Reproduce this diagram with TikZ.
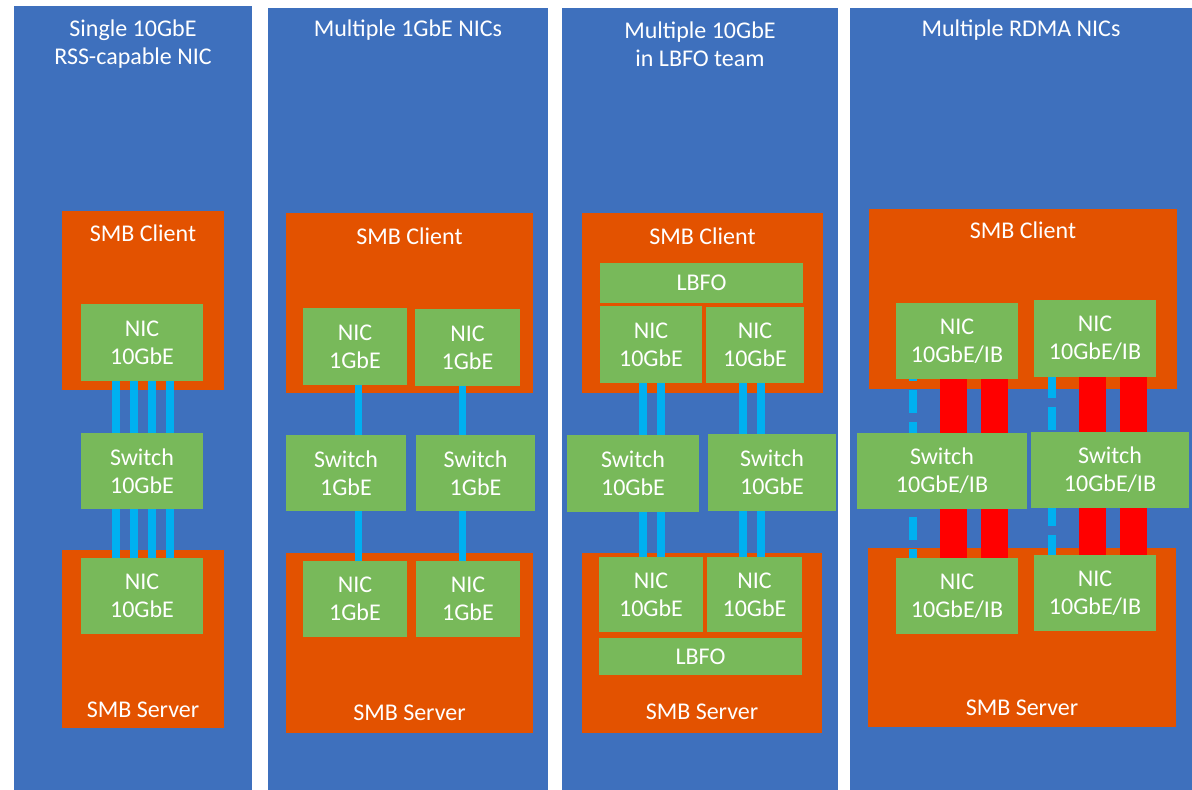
\documentclass[tikz,border=0pt]{standalone}
\usepackage{fontspec}
\setmainfont{Carlito}
\definecolor{pblue}{HTML}{3E70BD}
\definecolor{porange}{HTML}{E35200}
\definecolor{pgreen}{HTML}{78B95A}
\definecolor{pcyan}{HTML}{00B0F0}
\definecolor{pred}{HTML}{FF0000}
\pgfdeclarelayer{bg}
\pgfdeclarelayer{links}
\pgfsetlayers{bg,links,main}
\tikzset{
  panel/.style={fill=pblue, draw=none, inner sep=0pt, outer sep=0pt},
  host/.style={fill=porange, draw=none, inner sep=0pt, outer sep=0pt},
  dev/.style={fill=pgreen, draw=none, text=white, font=\fontsize{24}{28}\selectfont, align=center, inner sep=0pt, outer sep=0pt},
  lbl/.style={text=white, font=\fontsize{24}{28}\selectfont, anchor=base, inner sep=0pt},
  ttl/.style={text=white, font=\fontsize{24}{28}\selectfont, align=center, inner sep=0pt},
  eth/.style={draw=pcyan, line width=8pt},
  eth1/.style={draw=pcyan, line width=7pt},
  rdma/.style={draw=pred, line width=27pt},
}
\begin{document}
\begin{tikzpicture}[x=1pt,y=-1pt]
\useasboundingbox (0,0) rectangle (1192,790);
\begin{pgfonlayer}{bg}
\fill[white] (0,0) rectangle (1192,790);
\node[panel, minimum width=238, minimum height=784] (p1) at (133,398) {};
\node[panel, minimum width=280, minimum height=782] (p2) at (408,399) {};
\node[panel, minimum width=276, minimum height=782] (p3) at (700,399) {};
\node[panel, minimum width=342, minimum height=782] (p4) at (1021,399) {};
% hosts
\node[host, minimum width=162, minimum height=179] (client1) at (143,300.5) {};
\node[host, minimum width=162, minimum height=178] (server1) at (143,639) {};
\node[host, minimum width=247, minimum height=180] (client2) at (409.5,303) {};
\node[host, minimum width=247, minimum height=180] (server2) at (409.5,643) {};
\node[host, minimum width=241, minimum height=180] (client3) at (702.5,303) {};
\node[host, minimum width=240, minimum height=180] (server3) at (702,643) {};
\node[host, minimum width=308, minimum height=180] (client4) at (1023,299) {};
\node[host, minimum width=308, minimum height=179] (server4) at (1022,637.5) {};
\end{pgfonlayer}

% titles
\node[ttl] (t1) at (133,44) {Single 10GbE\\RSS-capable NIC};
\node[ttl] (t2) at (408,30) {Multiple 1GbE NICs};
\node[ttl] (t3) at (700,44) {Multiple 10GbE\\in LBFO team};
\node[ttl] (t4) at (1021,30) {Multiple RDMA NICs};

% host labels
\node[lbl] (lc1) at (143,241) {SMB Client};
\node[lbl] (ls1) at (143,717) {SMB Server};
\node[lbl] (lc2) at (409.5,244) {SMB Client};
\node[lbl] (ls2) at (409.5,720) {SMB Server};
\node[lbl] (lc3) at (702.5,244) {SMB Client};
\node[lbl] (ls3) at (702,719) {SMB Server};
\node[lbl] (lc4) at (1023,238) {SMB Client};
\node[lbl] (ls4) at (1022,715) {SMB Server};

% panel 1 devices
\node[dev, minimum width=122, minimum height=77] (nic1a) at (142,342.5) {NIC\\10GbE};
\node[dev, minimum width=122, minimum height=76] (sw1) at (142,471) {Switch\\10GbE};
\node[dev, minimum width=122, minimum height=76] (nic1b) at (142,596) {NIC\\10GbE};

% panel 2 devices
\node[dev, minimum width=104, minimum height=77] (nic2a) at (355,346.5) {NIC\\1GbE};
\node[dev, minimum width=105, minimum height=77] (nic2b) at (467.5,347.5) {NIC\\1GbE};
\node[dev, minimum width=120, minimum height=76] (sw2a) at (346,473) {Switch\\1GbE};
\node[dev, minimum width=119, minimum height=76] (sw2b) at (475.5,473) {Switch\\1GbE};
\node[dev, minimum width=104, minimum height=76] (nic2c) at (355,599) {NIC\\1GbE};
\node[dev, minimum width=104, minimum height=76] (nic2d) at (468,599) {NIC\\1GbE};

% panel 3 devices
\node[dev, minimum width=203, minimum height=40] (lbfo3a) at (701.5,283) {LBFO};
\node[dev, minimum width=102, minimum height=77] (nic3a) at (651,344.5) {NIC\\10GbE};
\node[dev, minimum width=98, minimum height=76] (nic3b) at (755,345) {NIC\\10GbE};
\node[dev, minimum width=132, minimum height=77] (sw3a) at (633,473.5) {Switch\\10GbE};
\node[dev, minimum width=128, minimum height=77] (sw3b) at (772,472.5) {Switch\\10GbE};
\node[dev, minimum width=104, minimum height=75] (nic3c) at (651,594.5) {NIC\\10GbE};
\node[dev, minimum width=95, minimum height=75] (nic3d) at (754.5,594.5) {NIC\\10GbE};
\node[dev, minimum width=203, minimum height=37] (lbfo3b) at (700.5,656.5) {LBFO};

% panel 4 devices
\node[dev, minimum width=122, minimum height=76] (nic4a) at (957,341) {NIC\\10GbE/IB};
\node[dev, minimum width=122, minimum height=77] (nic4b) at (1095,338.5) {NIC\\10GbE/IB};
\node[dev, minimum width=170, minimum height=76] (sw4a) at (942,471) {Switch\\10GbE/IB};
\node[dev, minimum width=158, minimum height=76] (sw4b) at (1110,470) {Switch\\10GbE/IB};
\node[dev, minimum width=122, minimum height=76] (nic4c) at (957,596) {NIC\\10GbE/IB};
\node[dev, minimum width=122, minimum height=76] (nic4d) at (1095,593) {NIC\\10GbE/IB};

\begin{pgfonlayer}{links}
% panel 1
\foreach \d in {-26,-8,10,28}{
  \draw[eth] ([xshift=\d]nic1a.south) -- ([xshift=\d]sw1.north);
  \draw[eth] ([xshift=\d]sw1.south) -- ([xshift=\d]nic1b.north);
}
% panel 2
\draw[eth1] ([xshift=3]nic2a.south) -- ([xshift=12]sw2a.north);
\draw[eth1] ([xshift=12]sw2a.south) -- ([xshift=3]nic2c.north);
\draw[eth1] ([xshift=-5.5]nic2b.south) -- ([xshift=-13.5]sw2b.north);
\draw[eth1] ([xshift=-13.5]sw2b.south) -- ([xshift=-6]nic2d.north);
% panel 3
\draw[eth] ([xshift=-8]nic3a.south) -- ([xshift=10]sw3a.north);
\draw[eth] ([xshift=10]nic3a.south) -- ([xshift=28]sw3a.north);
\draw[eth] ([xshift=10]sw3a.south) -- ([xshift=-8]nic3c.north);
\draw[eth] ([xshift=28]sw3a.south) -- ([xshift=10]nic3c.north);
\draw[eth] ([xshift=-12]nic3b.south) -- ([xshift=-29]sw3b.north);
\draw[eth] ([xshift=6]nic3b.south) -- ([xshift=-11]sw3b.north);
\draw[eth] ([xshift=-29]sw3b.south) -- ([xshift=-11.5]nic3d.north);
\draw[eth] ([xshift=-11]sw3b.south) -- ([xshift=6.5]nic3d.north);
% panel 4 RDMA
\draw[rdma] ([xshift=-3.5]nic4a.south) -- ([xshift=11.5]sw4a.north);
\draw[rdma] ([xshift=37.5]nic4a.south) -- ([xshift=52.5]sw4a.north);
\draw[rdma] ([xshift=11.5]sw4a.south) -- ([xshift=-3.5]nic4c.north);
\draw[rdma] ([xshift=52.5]sw4a.south) -- ([xshift=37.5]nic4c.north);
\draw[rdma] ([xshift=-2.5]nic4b.south) -- ([xshift=-17.5]sw4b.north);
\draw[rdma] ([xshift=38.5]nic4b.south) -- ([xshift=23.5]sw4b.north);
\draw[rdma] ([xshift=-17.5]sw4b.south) -- ([xshift=-2.5]nic4d.north);
\draw[rdma] ([xshift=23.5]sw4b.south) -- ([xshift=38.5]nic4d.north);
% panel 4 dashed ethernet
\draw[eth, dash pattern=on 23pt off 9pt, dash phase=21pt] ([xshift=-44]nic4a.south) -- ([xshift=-29]sw4a.north);
\draw[eth, dash pattern=on 23pt off 9pt, dash phase=24pt] ([xshift=-29]sw4a.south) -- ([xshift=-44]nic4c.north);
\draw[eth, dash pattern=on 23pt off 9pt, dash phase=2pt] ([xshift=-43]nic4b.south) -- ([xshift=-58]sw4b.north);
\draw[eth, dash pattern=on 23pt off 9pt, dash phase=5pt] ([xshift=-58]sw4b.south) -- ([xshift=-43]nic4d.north);
\end{pgfonlayer}
\end{tikzpicture}
\end{document}
